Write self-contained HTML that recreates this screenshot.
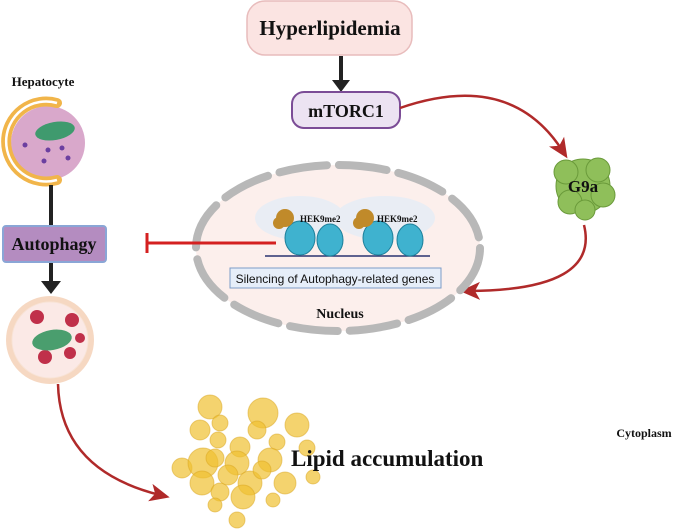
<!DOCTYPE html>
<html><head><meta charset="utf-8"><style>
html,body{margin:0;padding:0;background:#fff}
svg{display:block}
.s{font-family:"Liberation Serif",serif;font-weight:bold}
</style></head><body>
<svg width="685" height="532" viewBox="0 0 685 532" xmlns="http://www.w3.org/2000/svg">
<defs>
<marker id="ar" markerWidth="20" markerHeight="20" refX="10" refY="10" orient="auto" markerUnits="userSpaceOnUse"><path d="M0,1 L20,10 L0,19 L5,10z" fill="#b02a2a"/></marker>
</defs>
<rect x="247" y="1" width="165" height="54" rx="18" fill="#fbe4e2" stroke="#e8bcbc" stroke-width="1.5"/>
<text x="330" y="35" class="s" font-size="21" text-anchor="middle" fill="#111">Hyperlipidemia</text>
<line x1="341" y1="56" x2="341" y2="82" stroke="#222" stroke-width="4"/>
<path d="M332,80 L350,80 L341,92z" fill="#222"/>
<rect x="292" y="92" width="108" height="36" rx="12" fill="#ece3f2" stroke="#7b4c96" stroke-width="2"/>
<text x="346" y="117" class="s" font-size="18" text-anchor="middle" fill="#111">mTORC1</text>
<path d="M400,108 Q510,70 562,150" fill="none" stroke="#b02a2a" stroke-width="2.5" marker-end="url(#ar)"/>
<g fill="#8fbf5a" stroke="#6a9a3a" stroke-width="1">
<circle cx="583" cy="186" r="27"/><circle cx="566" cy="172" r="12"/><circle cx="598" cy="170" r="12"/><circle cx="603" cy="195" r="12"/><circle cx="570" cy="202" r="12"/><circle cx="585" cy="210" r="10"/>
</g>
<text x="583" y="192" class="s" font-size="17" text-anchor="middle" fill="#111">G9a</text>
<path d="M584,225 Q600,290 470,291" fill="none" stroke="#b02a2a" stroke-width="2.5" marker-end="url(#ar)"/>
<ellipse cx="338" cy="248" rx="142" ry="83" fill="#fcefec" stroke="#b8b8b8" stroke-width="8" stroke-dasharray="48 12" stroke-linecap="round"/>
<ellipse cx="300" cy="218" rx="45" ry="22" fill="#e9edf4"/>
<ellipse cx="385" cy="218" rx="50" ry="22" fill="#e9edf4"/>
<line x1="265" y1="256" x2="430" y2="256" stroke="#2a3470" stroke-width="1.5"/>
<g fill="#3fb2cf" stroke="#1d7f9a" stroke-width="1">
<ellipse cx="300" cy="238" rx="15" ry="17"/><ellipse cx="330" cy="240" rx="13" ry="16"/>
<ellipse cx="378" cy="238" rx="15" ry="17"/><ellipse cx="410" cy="240" rx="13" ry="16"/>
</g>
<g fill="#c08a2a"><circle cx="285" cy="218" r="9"/><circle cx="279" cy="223" r="6"/><circle cx="365" cy="218" r="9"/><circle cx="359" cy="223" r="6"/></g>
<text x="300" y="222" class="s" font-size="9" fill="#111">HEK9me2</text>
<text x="377" y="222" class="s" font-size="9" fill="#111">HEK9me2</text>
<rect x="230" y="268" width="211" height="20" fill="#e6eef9" stroke="#7d9cc8" stroke-width="1"/>
<text x="335" y="283" font-family="Liberation Sans,sans-serif" font-size="12" text-anchor="middle" fill="#111">Silencing of Autophagy-related genes</text>
<text x="340" y="318" class="s" font-size="14" text-anchor="middle" fill="#111">Nucleus</text>
<line x1="147" y1="243" x2="276" y2="243" stroke="#d42020" stroke-width="3"/>
<line x1="147" y1="233" x2="147" y2="253" stroke="#d42020" stroke-width="3"/>
<text x="43" y="86" class="s" font-size="13" text-anchor="middle" fill="#111">Hepatocyte</text>
<circle cx="48" cy="143" r="37" fill="#d9a8cb"/>
<path d="M57,103 A40,40 0 1,0 57,180" fill="none" stroke="#f1b54a" stroke-width="10" stroke-linecap="round"/>
<path d="M57,103 A40,40 0 1,0 57,180" fill="none" stroke="#fff" stroke-width="2.5"/>
<ellipse cx="55" cy="131" rx="20" ry="9" fill="#3f9a6e" transform="rotate(-10 55 131)"/>
<g fill="#6b3fa0"><circle cx="25" cy="145" r="2.5"/><circle cx="48" cy="150" r="2.5"/><circle cx="44" cy="161" r="2.5"/><circle cx="68" cy="158" r="2.5"/><circle cx="62" cy="148" r="2.5"/></g>
<line x1="51" y1="185" x2="51" y2="226" stroke="#222" stroke-width="4"/>
<rect x="3" y="226" width="103" height="36" rx="3" fill="#b48cc0" stroke="#8aa6d6" stroke-width="2"/>
<text x="54" y="250" class="s" font-size="18" text-anchor="middle" fill="#111">Autophagy</text>
<line x1="51" y1="263" x2="51" y2="282" stroke="#222" stroke-width="4"/>
<path d="M41,281 L61,281 L51,294z" fill="#222"/>
<circle cx="50" cy="340" r="44" fill="#f6d8c2"/>
<circle cx="50" cy="340" r="38" fill="#fbe9e6" stroke="#f8e3d6" stroke-width="1"/>
<g fill="#c0304a"><circle cx="37" cy="317" r="7"/><circle cx="72" cy="320" r="7"/><circle cx="45" cy="357" r="7"/><circle cx="70" cy="353" r="6"/><circle cx="80" cy="338" r="5"/></g>
<ellipse cx="52" cy="340" rx="20" ry="10" fill="#4a9e6e" transform="rotate(-10 52 340)"/>
<path d="M58,384 Q60,470 160,495" fill="none" stroke="#b02a2a" stroke-width="2.5" marker-end="url(#ar)"/>
<g fill="#f0c030" fill-opacity="0.7" stroke="#d9a520" stroke-opacity="0.5">
<circle cx="210" cy="407" r="12"/><circle cx="263" cy="413" r="15"/><circle cx="297" cy="425" r="12"/><circle cx="200" cy="430" r="10"/><circle cx="220" cy="423" r="8"/><circle cx="257" cy="430" r="9"/><circle cx="277" cy="442" r="8"/><circle cx="218" cy="440" r="8"/><circle cx="240" cy="447" r="10"/><circle cx="307" cy="448" r="8"/><circle cx="182" cy="468" r="10"/><circle cx="203" cy="463" r="15"/><circle cx="215" cy="458" r="9"/><circle cx="237" cy="463" r="12"/><circle cx="270" cy="460" r="12"/><circle cx="313" cy="477" r="7"/><circle cx="202" cy="483" r="12"/><circle cx="250" cy="483" r="12"/><circle cx="285" cy="483" r="11"/><circle cx="220" cy="492" r="9"/><circle cx="243" cy="497" r="12"/><circle cx="215" cy="505" r="7"/><circle cx="273" cy="500" r="7"/><circle cx="237" cy="520" r="8"/><circle cx="228" cy="475" r="10"/><circle cx="262" cy="470" r="9"/>
</g>
<text x="291" y="466" class="s" font-size="23" fill="#111">Lipid  accumulation</text>
<text x="644" y="437" class="s" font-size="12" text-anchor="middle" fill="#111">Cytoplasm</text>
</svg>
</body></html>
